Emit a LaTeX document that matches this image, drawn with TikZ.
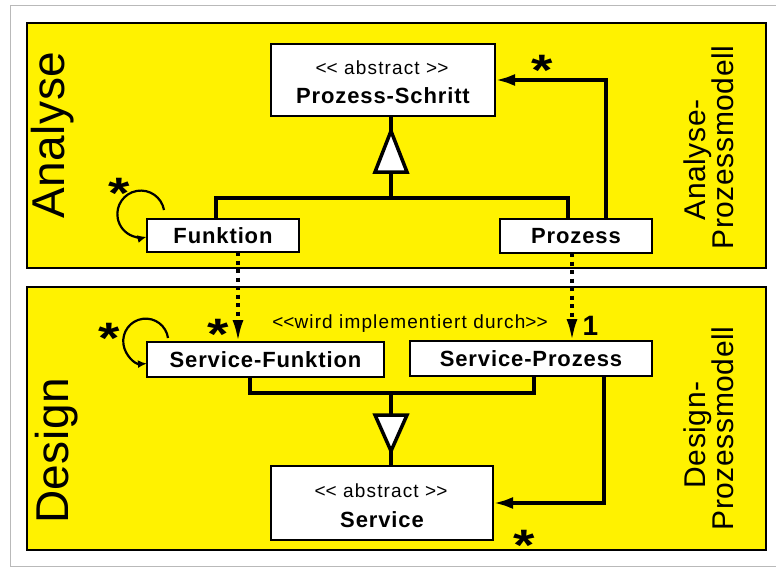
\documentclass[tikz,border=0pt]{standalone}
\usepackage{fontspec}
\setmainfont{Liberation Sans}
\usetikzlibrary{arrows.meta}
% guillemet-free angle brackets (boxes keep the TeX mapping from joining them)
\newcommand\dlt{\mbox{<}\mbox{<}}
\newcommand\dgt{\mbox{>}\mbox{>}}
% multiplicity star, boxed tightly round the glyph
\newcommand\mstar{\scalebox{1.25}[1]{\raisebox{-16.8pt}[14.7pt][0pt]{*}}}

\begin{document}
\begin{tikzpicture}[x=1pt,y=-1pt,
  panel/.style={draw=black,line width=1.6pt,fill=yellow},
  clsbox/.style={draw=black,line width=2pt,fill=white,inner sep=0pt,outer sep=0pt},
  clsname/.style={inner sep=0pt,font=\fontsize{22}{26}\selectfont\bfseries\addfontfeatures{LetterSpace=4}},
  stereo/.style={inner sep=0pt,font=\fontsize{19}{22}\selectfont\addfontfeatures{LetterSpace=6}},
  mult/.style={inner sep=0pt,anchor=center,font=\fontsize{44}{44}\selectfont\bfseries},
  biglabel/.style={rotate=90,inner sep=0pt,font=\fontsize{46}{50}\selectfont\addfontfeatures{LetterSpace=1}},
  modlabel/.style={rotate=90,inner sep=0pt,align=center,font=\fontsize{30}{28}\selectfont\addfontfeatures{LetterSpace=2}},
  genline/.style={line width=4pt},
  gentri/.style={line width=3.5pt,fill=white,line join=miter},
  assoc/.style={line width=4pt,-{Latex[length=20pt,width=12pt]}},
  selfassoc/.style={line width=2.2pt,-{Latex[length=9pt,width=8pt]}},
  impl/.style={line width=3.6pt,dash pattern=on 4pt off 4.5pt,-{Latex[length=22pt,width=11pt]}},
]
\useasboundingbox (0,0) rectangle (776,567);
\fill[white] (0,0) rectangle (776,567);
\draw[gray!55,line width=1pt] (10,6) rectangle (780,566);

% the two model layers
\draw[panel] (27,23) rectangle (766,268);
\draw[panel] (27,287) rectangle (766,550);

\node[biglabel] (lanalyse) at (53,135) {Analyse};
\node[biglabel] (ldesign) at (57,451) {Design};
\node[modlabel] (lapm) at (708.5,147.5) {Analyse-\hspace*{25pt}\\Prozessmodell};
\node[modlabel] (ldpm) at (708.5,428.5) {Design-\hspace*{13pt}\\Prozessmodell};

% classes
\node[clsbox,minimum width=224pt,minimum height=72pt] (ps) at (383,80) {};
\node[stereo,anchor=base] (psst) at (382,75) {\dlt{} abstract \dgt};
\node[clsname,anchor=base] (psnm) at (383,104) {Prozess-Schritt};

\node[clsbox,clsname,minimum width=152pt,minimum height=33pt] (fk) at (223,235.5) {Funktion};
\node[clsbox,clsname,minimum width=152pt,minimum height=34pt] (pz) at (576,236) {Prozess};
\node[clsbox,clsname,minimum width=237pt,minimum height=35pt] (sf) at (265.5,359.5) {Service-Funktion};
\node[clsbox,clsname,minimum width=242pt,minimum height=35pt] (sp) at (531,358.5) {Service-Prozess};

\node[clsbox,minimum width=222pt,minimum height=74pt] (sv) at (382,503) {};
\node[stereo,anchor=base] (svst) at (381,497) {\dlt{} abstract \dgt};
\node[clsname,anchor=base] (svnm) at (382,527) {Service};

% generalisation, analysis layer
\coordinate (jt) at (391,198);
\draw[genline] ([xshift=-7pt]fk.north) |- (jt) -| ([xshift=-8pt]pz.north);
\draw[genline] (jt) -- (jt |- ps.south);
\draw[gentri] (391,131) -- (407,172) -- (375,172) -- cycle;

% generalisation, design layer
\coordinate (jb) at (391,393);
\draw[genline] ([xshift=-15.5pt]sf.south) |- (jb) -| ([xshift=3pt]sp.south);
\draw[genline] (jb) -- (jb |- sv.north);
\draw[gentri] (375,415) -- (407,415) -- (391,451) -- cycle;

% associations
\draw[assoc] ([xshift=30pt]pz.north) |- (ps.east);
\draw[assoc] ([xshift=73pt]sp.south) |- (sv.east);
\draw[selfassoc] ([xshift=17pt,yshift=9pt]fk.north west) arc[start angle=-10,end angle=-284,radius=23.5];
\draw[selfassoc] ([xshift=21pt,yshift=4pt]sf.north west) arc[start angle=-8,end angle=-273,radius=22.5];

% implementation links
\coordinate (fkd) at ([xshift=15pt]fk.south);
\coordinate (pzd) at ([xshift=-4pt]pz.south);
\draw[impl] (fkd) -- (fkd |- sf.north);
\draw[impl] (pzd) -- (pzd |- sp.north);
\node[stereo,anchor=base] (impltxt) at (410,328) {\dlt wird implementiert durch\dgt};

% multiplicities
\node[mult] (m1) at (542.5,61) {\mstar};
\node[mult] (m2) at (524.5,536.5) {\mstar};
\node[mult] (m3) at (119.5,184.5) {\mstar};
\node[mult] (m4) at (109,329.5) {\mstar};
\node[mult] (m5) at (218,325.5) {\mstar};
\node[inner sep=0pt,anchor=base,font=\fontsize{28}{28}\selectfont\bfseries] (m6) at (590.5,335) {1};
\end{tikzpicture}
\end{document}
